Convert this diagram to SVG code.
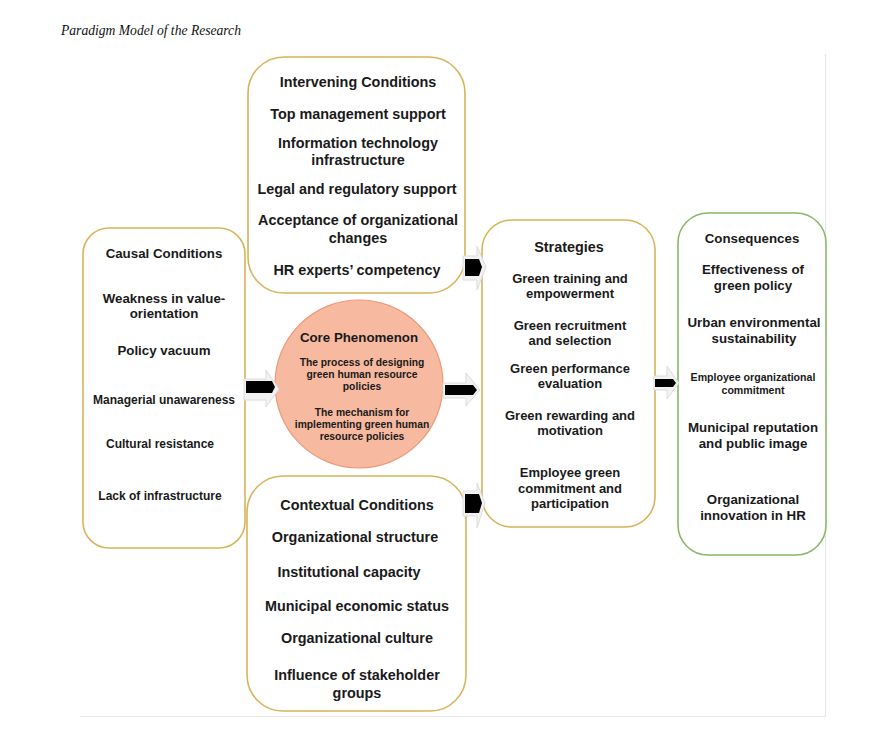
<svg xmlns="http://www.w3.org/2000/svg" width="881" height="752" viewBox="0 0 881 752">
<defs>
<style>
.box{fill:#fff;stroke:#d8b45a;stroke-width:1.6}
.gbox{fill:#fff;stroke:#8cb56c;stroke-width:1.6}
.circ{fill:#f7b9a0;stroke:#ec9a78;stroke-width:1.2}
text{font-family:"Liberation Sans",Arial,sans-serif;font-weight:bold;fill:#1a1a1a;text-anchor:middle}
.h{font-size:14.4px}
.i{font-size:14.4px}
.s{font-size:13.3px}
.st{font-size:13px}
.xs{font-size:12px}
.c{font-size:10.3px}
.ch{font-size:13.3px}
.t{font-size:10.6px}
.title{font-family:"Liberation Serif","Times New Roman",serif;font-style:italic;font-weight:normal;font-size:13.6px;text-anchor:start;fill:#111}
.shadow{fill:#f2f2f2;stroke:#dcdcdc;stroke-width:1}
.blk{fill:#000}
.frame{stroke:#e6e6e6;stroke-width:1.2;fill:none}
</style>
</defs>
<rect width="881" height="752" fill="#fff"/>
<text class="title" x="61" y="35">Paradigm Model of the Research</text>
<path class="frame" d="M825.5 54 V716.5 H80"/>

<g id="causal">
<rect class="box" x="83" y="228" width="162" height="320" rx="26"/>
<text class="s" x="164" y="258">Causal Conditions</text>
<text class="s" x="164" y="303">Weakness in value-</text>
<text class="s" x="164" y="318">orientation</text>
<text class="s" x="164" y="355">Policy vacuum</text>
<text class="xs" x="164" y="404">Managerial unawareness</text>
<text class="xs" x="160" y="448">Cultural resistance</text>
<text class="xs" x="160" y="500">Lack of infrastructure</text>
</g>

<g id="intervening">
<rect class="box" x="248" y="57" width="217" height="236" rx="36"/>
<text class="h" x="358" y="87">Intervening Conditions</text>
<text class="i" x="358" y="119">Top management support</text>
<text class="i" x="358" y="148">Information technology</text>
<text class="i" x="358" y="165">infrastructure</text>
<text class="i" x="357" y="194">Legal and regulatory support</text>
<text class="i" x="358" y="225">Acceptance of organizational</text>
<text class="i" x="358" y="243">changes</text>
<text class="i" x="357" y="275">HR experts’ competency</text>
</g>

<g id="core">
<circle class="circ" cx="359" cy="384" r="84"/>
<text class="ch" x="359" y="342">Core Phenomenon</text>
<text class="c" x="362" y="366">The process of designing</text>
<text class="c" x="362" y="378">green human resource</text>
<text class="c" x="362" y="390">policies</text>
<text class="c" x="362" y="416">The mechanism for</text>
<text class="c" x="362" y="428">implementing green human</text>
<text class="c" x="362" y="440">resource policies</text>
</g>

<g id="contextual">
<rect class="box" x="247" y="476" width="219" height="235" rx="36"/>
<text class="h" x="357" y="510">Contextual Conditions</text>
<text class="i" x="355" y="542">Organizational structure</text>
<text class="i" x="349" y="577">Institutional capacity</text>
<text class="i" x="357" y="611">Municipal economic status</text>
<text class="i" x="357" y="643">Organizational culture</text>
<text class="i" x="357" y="680">Influence of stakeholder</text>
<text class="i" x="357" y="698">groups</text>
</g>

<g id="strategies">
<rect class="box" x="482" y="220" width="173" height="307" rx="30"/>
<text class="h" x="569" y="252">Strategies</text>
<text class="st" x="570" y="283">Green training and</text>
<text class="st" x="570" y="298">empowerment</text>
<text class="st" x="570" y="330">Green recruitment</text>
<text class="st" x="570" y="345">and selection</text>
<text class="st" x="570" y="373">Green performance</text>
<text class="st" x="570" y="388">evaluation</text>
<text class="st" x="570" y="420">Green rewarding and</text>
<text class="st" x="570" y="435">motivation</text>
<text class="st" x="570" y="477">Employee green</text>
<text class="st" x="570" y="493">commitment and</text>
<text class="st" x="570" y="508">participation</text>
</g>

<g id="consequences">
<rect class="gbox" x="678" y="213" width="148" height="342" rx="30"/>
<text class="s" x="752" y="243">Consequences</text>
<text class="s" x="753" y="274">Effectiveness of</text>
<text class="s" x="753" y="290">green policy</text>
<text class="s" x="754" y="327">Urban environmental</text>
<text class="s" x="754" y="343">sustainability</text>
<text class="t" x="753" y="381">Employee organizational</text>
<text class="t" x="753" y="394">commitment</text>
<text class="s" x="753" y="432">Municipal reputation</text>
<text class="s" x="753" y="448">and public image</text>
<text class="s" x="753" y="504">Organizational</text>
<text class="s" x="753" y="520">innovation in HR</text>
</g>

<g id="connectors">
<polygon class="shadow" points="244,379 266,379 266,370 279,389 266,407 266,400 244,400"/>
<polygon class="blk" points="246,381 272,381 275,387 272,393 246,393"/>
<polygon class="shadow" points="443,383 466,383 466,373 480,390 466,406 466,398 443,398"/>
<polygon class="blk" points="445,385 473,385 477,390 473,395 445,395"/>
<polygon class="shadow" points="463,256 477,256 477,246 486,267 477,290 477,280 463,280"/>
<polygon class="blk" points="465,259 479,259 482,267 479,276 465,276"/>
<polygon class="shadow" points="463,491 477,491 477,483 485,503 477,528 477,516 463,516"/>
<polygon class="blk" points="465,494 479,494 482,503 479,513 465,513"/>
<polygon class="shadow" points="654,376 667,376 667,366 679,383 667,399 667,390 654,390"/>
<polygon class="blk" points="655,379 673,379 676,383 673,387 655,387"/>
</g>
</svg>
